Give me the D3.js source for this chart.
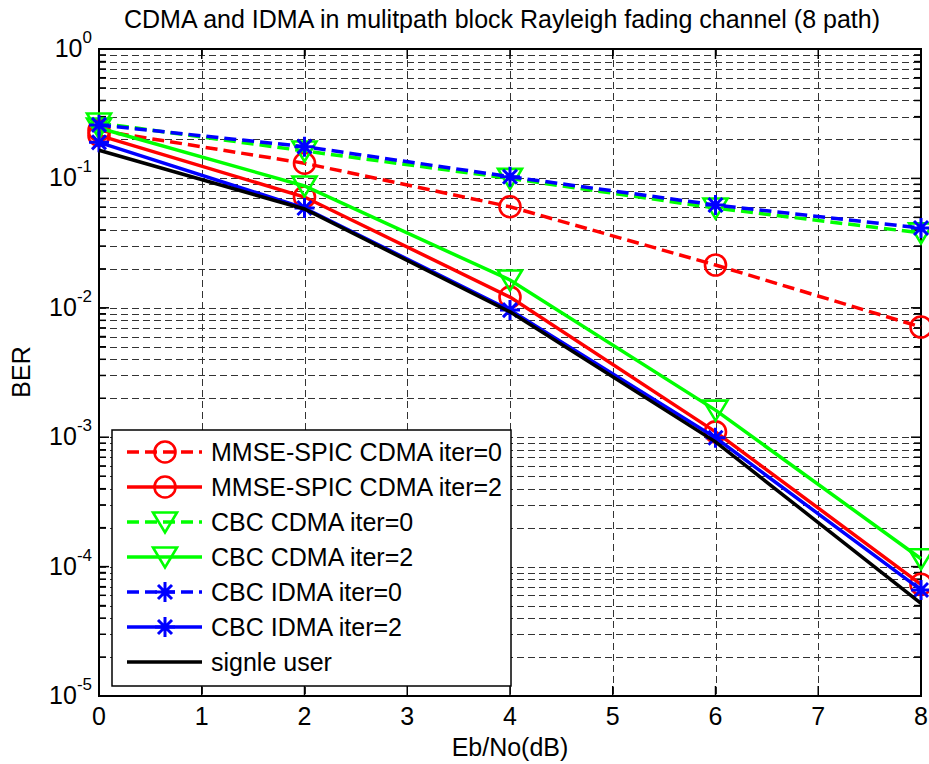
<!DOCTYPE html>
<html lang="en">
<head>
    <meta charset="UTF-8">
    <title>CDMA and IDMA in multipath block Rayleigh fading channel</title>
    <script src="https://d3js.org/d3.v7.min.js"></script>
    <style>
        body {
            margin: 0;
            background: #fff;
        }
        svg text {
            font-family: "Liberation Sans", Arial, sans-serif;
            fill: #000;
        }
        .grid line {
            stroke: #333;
            stroke-width: 1;
            stroke-dasharray: 7,4;
            shape-rendering: crispEdges;
        }
        .tick-mark {
            stroke: #000;
            stroke-width: 1.5;
        }
    </style>
</head>
<body>
<svg id="chart" width="929" height="764"></svg>
<script>
    // Eb/No points (dB)
    const ebno = [0, 2, 4, 6, 8];

    // BER values
    const mmseIter0 = [0.235, 0.131, 0.0604, 0.0214, 0.0071];
    const mmseIter2 = [0.215, 0.0718, 0.0121, 0.0011, 0.000073];
    const cbcCdmaIter0 = [0.268, 0.163, 0.100, 0.059, 0.0379];
    const cbcCdmaIter2 = [0.245, 0.0874, 0.0164, 0.00162, 0.000115];
    const cbcIdmaIter0 = [0.259, 0.176, 0.103, 0.0623, 0.0414];
    const cbcIdmaIter2 = [0.19, 0.059, 0.0096, 0.00099, 0.000066];
    const singleUser = [0.165, 0.058, 0.0093, 0.00092, 0.000052];

    const xTicks = [0, 1, 2, 3, 4, 5, 6, 7, 8];
    const yExponents = [0, -1, -2, -3, -4, -5];

    const series = [
        { name: "MMSE-SPIC CDMA iter=0", values: mmseIter0, color: "#ff0000", dashed: true, marker: "circle" },
        { name: "MMSE-SPIC CDMA iter=2", values: mmseIter2, color: "#ff0000", dashed: false, marker: "circle" },
        { name: "CBC CDMA iter=0", values: cbcCdmaIter0, color: "#00ff00", dashed: true, marker: "triangle" },
        { name: "CBC CDMA iter=2", values: cbcCdmaIter2, color: "#00ff00", dashed: false, marker: "triangle" },
        { name: "CBC IDMA iter=0", values: cbcIdmaIter0, color: "#0000ff", dashed: true, marker: "star" },
        { name: "CBC IDMA iter=2", values: cbcIdmaIter2, color: "#0000ff", dashed: false, marker: "star" },
        { name: "signle user", values: singleUser, color: "#000000", dashed: false, marker: null }
    ];

    const margin = { top: 49, right: 8, bottom: 68, left: 99 };
    const width = 929 - margin.left - margin.right;
    const height = 764 - margin.top - margin.bottom;

    const svg = d3.select("#chart");
    const g = svg.append("g").attr("transform", `translate(${margin.left},${margin.top})`);

    const x = d3.scaleLinear().domain([0, 8]).range([0, width]);
    const y = d3.scaleLog().domain([1e-5, 1]).range([height, 0]);

    // minor + major log ticks
    const allLogTicks = y.ticks();
    const majorLog = yExponents.map(e => Math.pow(10, e));
    const isMajor = v => majorLog.some(m => Math.abs(v - m) / m < 1e-6);

    // grid
    const grid = g.append("g").attr("class", "grid");
    grid.selectAll(".hg")
        .data(allLogTicks.filter(v => v > 1e-5 && v < 1))
        .enter().append("line")
        .attr("x1", 0).attr("x2", width)
        .attr("y1", d => Math.round(y(d)) + 0.5)
        .attr("y2", d => Math.round(y(d)) + 0.5);
    grid.selectAll(".vg")
        .data(xTicks.filter(d => d > 0 && d < 8))
        .enter().append("line")
        .attr("y1", 0).attr("y2", height)
        .attr("x1", d => Math.round(x(d)) + 0.5)
        .attr("x2", d => Math.round(x(d)) + 0.5);

    // tick marks, inward, on all four sides
    const ticks = g.append("g");
    allLogTicks.forEach(v => {
        const len = isMajor(v) ? 10 : 7;
        const yy = y(v);
        ticks.append("line").attr("class", "tick-mark")
            .attr("x1", 0).attr("x2", len).attr("y1", yy).attr("y2", yy);
        ticks.append("line").attr("class", "tick-mark")
            .attr("x1", width).attr("x2", width - len).attr("y1", yy).attr("y2", yy);
    });
    xTicks.forEach(t => {
        const xx = x(t);
        ticks.append("line").attr("class", "tick-mark")
            .attr("x1", xx).attr("x2", xx).attr("y1", height).attr("y2", height - 10);
        ticks.append("line").attr("class", "tick-mark")
            .attr("x1", xx).attr("x2", xx).attr("y1", 0).attr("y2", 10);
    });

    // box
    g.append("rect")
        .attr("x", 0).attr("y", 0)
        .attr("width", width).attr("height", height)
        .attr("fill", "none")
        .attr("stroke", "#000")
        .attr("stroke-width", 2);

    // x tick labels
    g.selectAll(".xl")
        .data(xTicks)
        .enter().append("text")
        .attr("x", d => x(d))
        .attr("y", height + 29)
        .attr("text-anchor", "middle")
        .style("font-size", "25px")
        .text(d => d);

    // y tick labels: 10 with superscript exponent
    yExponents.forEach(e => {
        const t = g.append("text")
            .attr("x", -7)
            .attr("y", y(Math.pow(10, e)) + 8)
            .attr("text-anchor", "end")
            .style("font-size", "25px");
        t.append("tspan").text("10");
        t.append("tspan")
            .attr("dx", 0)
            .attr("dy", -14)
            .style("font-size", "17px")
            .text(e);
    });

    // line + markers
    const line = d3.line()
        .x((d, i) => x(ebno[i]))
        .y(d => y(d));

    function drawMarker(sel, type, color) {
        if (type === "circle") {
            sel.append("circle").attr("r", 10.5)
                .attr("fill", "none").attr("stroke", color).attr("stroke-width", 2.6);
        } else if (type === "triangle") {
            sel.append("path").attr("d", "M-12,-9.5L12,-9.5L0,10.5Z")
                .attr("fill", "none").attr("stroke", color).attr("stroke-width", 2.6)
                .attr("stroke-linejoin", "miter");
        } else if (type === "star") {
            sel.append("path").attr("d", "M-10,0L10,0M0,-10L0,10M-7,-7L7,7M-7,7L7,-7")
                .attr("fill", "none").attr("stroke", color).attr("stroke-width", 3);
        }
    }

    series.forEach(s => {
        g.append("path")
            .datum(s.values)
            .attr("d", line)
            .attr("fill", "none")
            .attr("stroke", s.color)
            .attr("stroke-width", 3.5)
            .attr("stroke-dasharray", s.dashed ? "12,6" : null);
        if (s.marker) {
            s.values.forEach((v, i) => {
                const m = g.append("g").attr("transform", `translate(${x(ebno[i])},${y(v)})`);
                drawMarker(m, s.marker, s.color);
            });
        }
    });

    // legend
    const legend = g.append("g").attr("transform", `translate(${112 - margin.left},${430 - margin.top})`);
    legend.append("rect")
        .attr("width", 399).attr("height", 256)
        .attr("fill", "#fff")
        .attr("stroke", "#000")
        .attr("stroke-width", 1.5);
    series.forEach((s, i) => {
        const ly = 22 + i * 35;
        const row = legend.append("g").attr("transform", `translate(0,${ly})`);
        row.append("line")
            .attr("x1", 15).attr("x2", 90)
            .attr("y1", 0).attr("y2", 0)
            .attr("stroke", s.color)
            .attr("stroke-width", 3.5)
            .attr("stroke-dasharray", s.dashed ? "12,6" : null);
        if (s.marker) {
            const m = row.append("g").attr("transform", "translate(53,0)");
            drawMarker(m, s.marker, s.color);
        }
        row.append("text")
            .attr("x", 99).attr("y", 9)
            .style("font-size", "25px")
            .text(s.name);
    });

    // title and axis labels
    svg.append("text")
        .attr("x", 502).attr("y", 28)
        .attr("text-anchor", "middle")
        .style("font-size", "25px")
        .text("CDMA and IDMA in mulitpath block Rayleigh fading channel (8 path)");

    svg.append("text")
        .attr("x", 510).attr("y", 756)
        .attr("text-anchor", "middle")
        .style("font-size", "25px")
        .text("Eb/No(dB)");

    svg.append("text")
        .attr("transform", "translate(30,372) rotate(-90)")
        .attr("text-anchor", "middle")
        .style("font-size", "25px")
        .text("BER");
</script>
</body>
</html>
